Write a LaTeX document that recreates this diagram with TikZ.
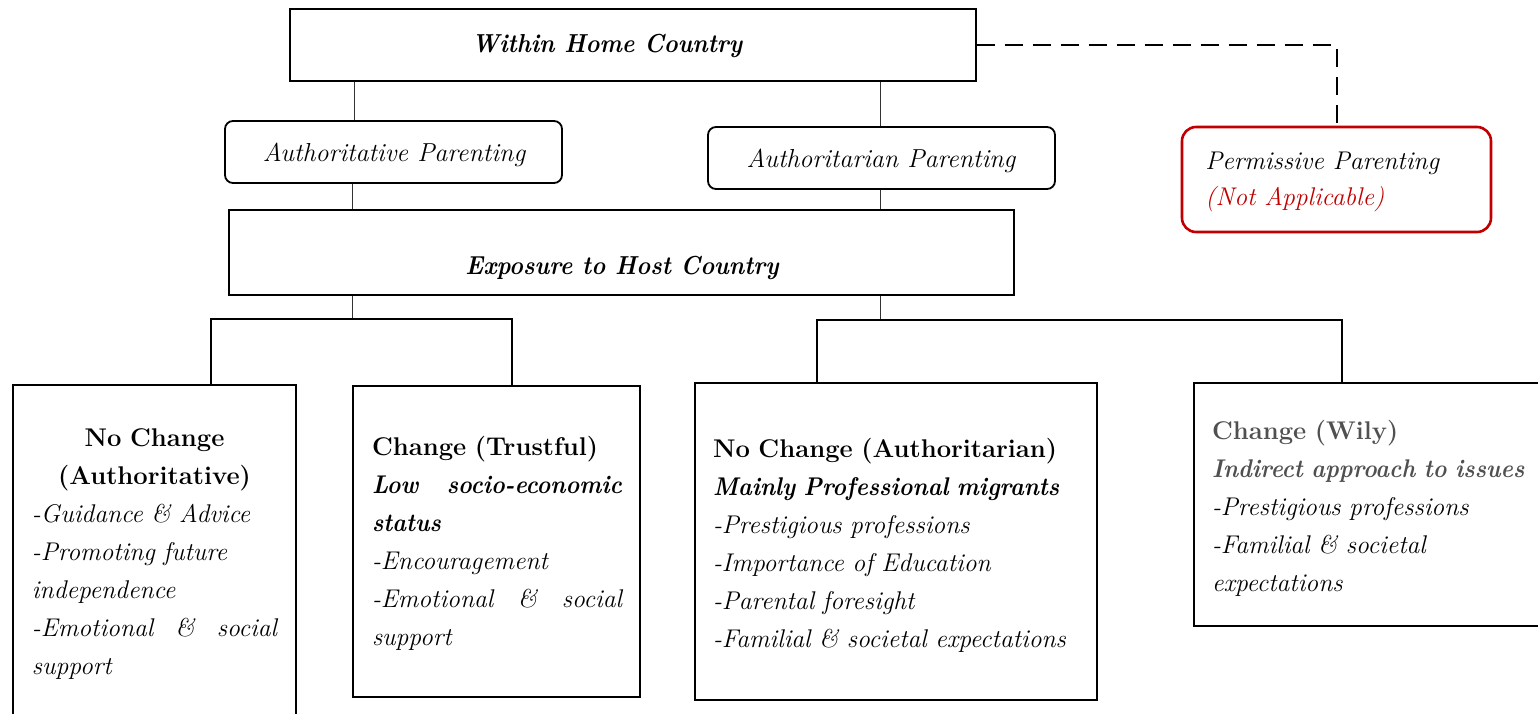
\documentclass[tikz,border=0pt]{standalone}
\usepackage{fontspec}
\setmainfont{Latin Modern Roman}[BoldItalicFeatures={FakeStretch=0.91}]
\setlength{\parindent}{0pt}
\hyphenpenalty=10000
\definecolor{permred}{HTML}{C00000}
\definecolor{wily}{HTML}{505050}
\tikzset{
  box/.style={draw=black, line width=0.9pt, inner sep=0pt},
  rbox/.style={box, rounded corners=4pt},
  redbox/.style={draw=permred, line width=1.3pt, rounded corners=7pt, inner sep=0pt},
  thin/.style={draw=black!80, line width=0.5pt},
  branch/.style={draw=black, line width=0.9pt},
  dashline/.style={draw=black, line width=1pt, dash pattern=on 9pt off 5pt},
  lbl/.style={font=\fontsize{13}{16}\selectfont\itshape, inner sep=0pt},
  head/.style={font=\fontsize{13}{16}\selectfont\bfseries\itshape, inner sep=0pt},
  txt/.style={font=\fontsize{12.8}{19}\selectfont\itshape, align=left, inner sep=0pt}
}
\begin{document}
\begin{tikzpicture}[x=0.5pt,y=-0.5pt]
\useasboundingbox (0,0) rectangle (1538,713);
% top level
\node[box, minimum width=343pt, minimum height=36pt] (home) at (633,45) {};
\node[head] (homet) at (607,46) {Within Home Country};
\node[rbox, minimum width=168.5pt, minimum height=31pt] (auth) at (393.5,152) {};
\node[lbl] (autht) at (394,155) {Authoritative Parenting};
\node[rbox, minimum width=173.5pt, minimum height=31pt] (autr) at (881.5,158) {};
\node[lbl] (autrt) at (881,161) {Authoritarian Parenting};
\node[redbox, minimum width=154.5pt, minimum height=52.5pt] (perm) at (1336.5,179.5) {};
\node[txt, font=\fontsize{12.8}{18}\selectfont\itshape, anchor=west] (permt) at (1205,182) {Permissive Parenting\\{\color{permred}(Not Applicable)}};
\node[box, minimum width=392.5pt, minimum height=42.5pt] (exp) at (621.5,252.5) {};
\node[head] (expt) at (622,268) {Exposure to Host Country};
% bottom boxes
\node[box, minimum width=141.5pt, minimum height=165pt] (b1) at (154.5,550) {};
\node[box, minimum width=143.5pt, minimum height=155.5pt] (b2) at (496.5,541.5) {};
\node[box, minimum width=201pt, minimum height=158.5pt] (b3) at (896,541.5) {};
\node[box, minimum width=183pt, minimum height=121.5pt] (b4) at (1377,504.5) {};
\node[txt, text width=122.5pt] (t1) at (154.5,554) {{\centering\upshape\bfseries No Change\\(Authoritative)\par}-Guidance \& Advice\\-Promoting future\\independence\\-Emotional\hfill\&\hfill social\\support};
\node[txt, text width=125pt] (t2) at (497,543) {{\upshape\bfseries Change (Trustful)}\\{\bfseries Low\hfill socio-economic}\\{\bfseries status}\\-Encouragement\\-Emotional\hfill\&\hfill social\\support};
\node[txt, text width=181pt] (t3) at (894,545) {{\upshape\bfseries No Change (Authoritarian)}\\\mbox{\bfseries Mainly Professional migrants}\\-Prestigious professions\\-Importance of Education\\-Parental foresight\\-Familial \& societal expectations};
\node[txt, text width=162pt] (t4) at (1374,508) {{\color{wily}\upshape\bfseries Change (Wily)}\\\mbox{\color{wily}\bfseries Indirect approach to issues}\\-Prestigious professions\\-Familial \& societal\\expectations};
% connector coordinates
\coordinate (c1) at (354,0);
\coordinate (c2) at (880,0);
\coordinate (c3) at (352,0);
\coordinate (kL1) at (211,319);
\coordinate (kL2) at (512,319);
\coordinate (jL) at (352,319);
\coordinate (kR1) at (817,320);
\coordinate (kR2) at (1342,320);
\coordinate (jR) at (880,320);
% connectors
\draw[thin] (home.south -| c1) -- (auth.north -| c1);
\draw[thin] (home.south -| c2) -- (autr.north -| c2);
\draw[thin] (auth.south -| c3) -- (exp.north -| c3);
\draw[thin] (autr.south -| c2) -- (exp.north -| c2);
\draw[thin] (exp.south -| jL) -- (jL);
\draw[thin] (exp.south -| jR) -- (jR);
\draw[branch] (b1.north -| kL1) -- (kL1) -- (kL2) -- (b2.north -| kL2);
\draw[branch] (b3.north -| kR1) -- (kR1) -- (kR2) -- (b4.north -| kR2);
\draw[dashline] (home.east) -| (perm.north);
\end{tikzpicture}
\end{document}
